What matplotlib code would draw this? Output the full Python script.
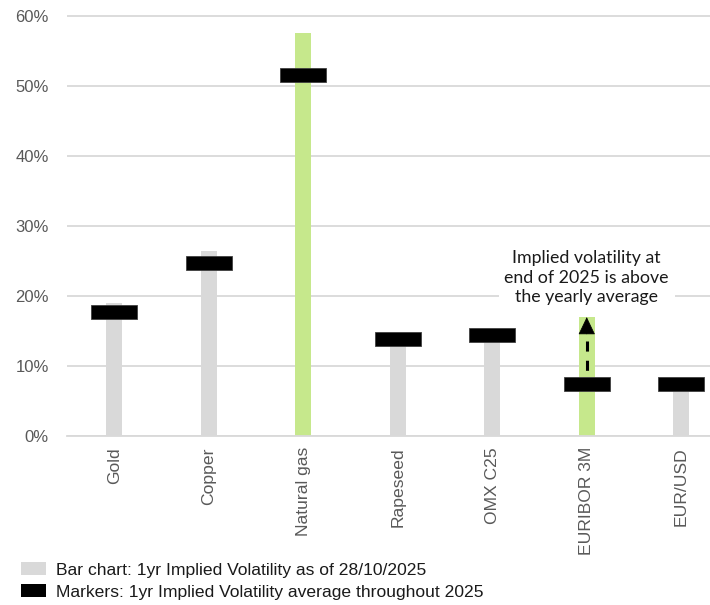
import numpy as np
import matplotlib.pyplot as plt
from matplotlib.patches import Patch
from matplotlib.ticker import FuncFormatter

# Dados
categorias = ['Gold', 'Copper', 'Natural gas', 'Rapeseed', 'OMX C25', 'EURIBOR 3M', 'EUR/USD']
vol_atual = [19.0, 26.5, 57.6, 13.3, 13.8, 17.0, 7.0]      # 1yr implied vol 28/10/2025
vol_media = [17.8, 24.8, 51.6, 13.8, 14.5, 7.45, 7.4]      # media 2025
destaque = [False, False, True, False, False, True, False]

cinza = '#d9d9d9'
verde = '#c6e88c'
cores = [verde if d else cinza for d in destaque]

plt.rcParams['font.family'] = ['Liberation Sans', 'DejaVu Sans']

fig = plt.figure(figsize=(7.10, 6.05), dpi=100)
ax = fig.add_axes([67/710, 169/605, 661.5/710, 421/605])

x = np.arange(len(categorias))
ax.bar(x, vol_atual, width=0.17, color=cores, zorder=2)

# marcadores (media do ano)
altura = 2.0
ax.bar(x, altura, bottom=np.array(vol_media) - altura/2, width=0.49,
       color='black', edgecolor='#404040', linewidth=0.6, zorder=3)

# seta EURIBOR
i = categorias.index('EURIBOR 3M')
ax.plot([i, i], [13.6, vol_media[i] + 1.0], color='black', lw=2.2,
        dashes=(3.3, 3.0), zorder=4, solid_capstyle='butt', dash_capstyle='butt')
ax.annotate('', xy=(i, vol_atual[i]), xytext=(i, 14.6),
            arrowprops=dict(arrowstyle='-|>,head_length=1.15,head_width=0.55',
                            color='black', lw=0.5, shrinkA=0, shrinkB=0,
                            mutation_scale=10), zorder=5)
ax.text(i, 22.65, 'Implied volatility at\nend of 2025 is above\nthe yearly average',
        ha='center', va='center', fontsize=12.8, family=['Lato', 'DejaVu Sans'],
        color='#1a1a1a', linespacing=1.25, zorder=6,
        bbox=dict(facecolor='white', edgecolor='none', pad=4))

# cosmeticos
ax.set_xlim(-0.5, len(categorias) - 0.5)
ax.set_ylim(0, 60.2)
ax.set_yticks(np.arange(0, 61, 10))
ax.yaxis.set_major_formatter(FuncFormatter(lambda v, p: f'{v:.0f}%'))
ax.set_xticks(x)
ax.set_xticklabels(categorias, rotation=90, va='top', ha='center')
ax.tick_params(axis='both', length=0, labelsize=12, labelcolor='#595959')
ax.tick_params(axis='x', labelsize=12.6)
ax.tick_params(axis='y', pad=13)
ax.tick_params(axis='x', pad=8)
ax.grid(axis='y', color='#d9d9d9', linewidth=1.3, zorder=0)
ax.set_axisbelow(True)
for s in ['top', 'right', 'left']:
    ax.spines[s].set_visible(False)
ax.spines['bottom'].set_color('#d9d9d9')
ax.spines['bottom'].set_linewidth(1.3)

handles = [Patch(facecolor=cinza, edgecolor='none'),
           Patch(facecolor='black', edgecolor='none')]
labels = ['Bar chart: 1yr Implied Volatility as of 28/10/2025',
          'Markers: 1yr Implied Volatility average throughout 2025']
fig.legend(handles, labels, loc='upper left', bbox_to_anchor=(21/710, 1 - 562/605),
           frameon=False, borderaxespad=0, borderpad=0, handlelength=1.4,
           handleheight=0.8, handletextpad=0.6, labelspacing=0.35,
           prop={'family': ['Liberation Sans'], 'size': 12.6},
           labelcolor='#1a1a1a')

fig.savefig('out.png', dpi=100)
